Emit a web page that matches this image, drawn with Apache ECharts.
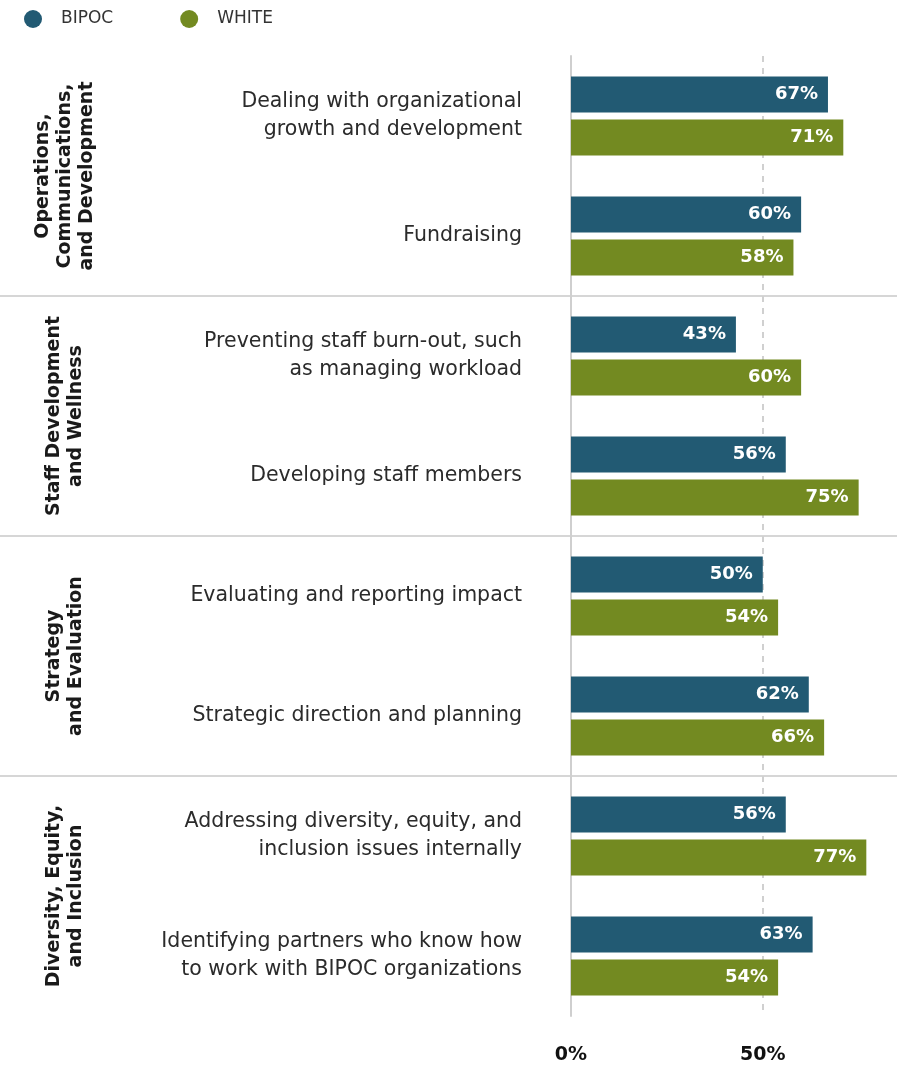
<!DOCTYPE html>
<html>
<head>
<meta charset="utf-8">
<script src="https://cdn.jsdelivr.net/npm/echarts@6/dist/echarts.min.js"></script>
<style>html,body{margin:0;padding:0;background:#fff}#c{width:897px;height:1066px}</style>
</head>
<body>
<div id="c"></div>
<script>
var categories = [
  'Dealing with organizational\ngrowth and development',
  'Fundraising',
  'Preventing staff burn-out, such\nas managing workload',
  'Developing staff members',
  'Evaluating and reporting impact',
  'Strategic direction and planning',
  'Addressing diversity, equity, and\ninclusion issues internally',
  'Identifying partners who know how\nto work with BIPOC organizations'
];
var groups = [
  'Operations,\nCommunications,\nand Development',
  'Staff Development\nand Wellness',
  'Strategy\nand Evaluation',
  'Diversity, Equity,\nand Inclusion'
];
var bipoc = [67, 60, 43, 56, 50, 62, 56, 63];
var white = [71, 58, 60, 75, 54, 66, 77, 54];
var seriesNames = ['BIPOC', 'WHITE'];

var FONT = 'DejaVu Sans';
var chart = echarts.init(document.getElementById('c'), null, {renderer: 'canvas'});
var valueLabel = {
  show: true, position: 'insideRight', distance: 10,
  formatter: '{c}%', color: '#fff', fontSize: 18, fontWeight: 'bold', fontFamily: FONT
};
chart.setOption({
  animation: false,
  textStyle: {fontFamily: FONT},
  legend: {
    data: seriesNames, icon: 'circle', itemWidth: 18, itemHeight: 18,
    left: 19, top: 5, itemGap: 67,
    textStyle: {fontSize: 17, color: '#333', fontFamily: FONT, padding: [0, 0, 0, 14]}
  },
  grid: [
    {left: 571, right: 0, top: 56, bottom: 50, containLabel: false},
    {left: 0, right: 0, top: 56, bottom: 50, containLabel: false}
  ],
  xAxis: [
    {
      type: 'value', gridIndex: 0, min: 0, max: 85, interval: 50,
      axisLine: {show: false}, axisTick: {show: false},
      splitLine: {show: true, showMinLine: false, showMaxLine: false,
        lineStyle: {color: '#d0d0d0', width: 2, type: [6, 6]}},
      axisLabel: {formatter: '{value}%', showMaxLabel: false, margin: 30,
        fontSize: 19, fontWeight: 'bold', color: '#111', fontFamily: FONT}
    },
    {type: 'value', gridIndex: 1, show: false, min: 0, max: 1}
  ],
  yAxis: [
    {
      type: 'category', gridIndex: 0, inverse: true, data: categories,
      axisLine: {show: true, lineStyle: {color: '#cfcfcf', width: 2}},
      axisTick: {show: false},
      axisLabel: {interval: 0, margin: 49, fontSize: 20.5, color: '#2b2b2b', lineHeight: 28, fontFamily: FONT}
    },
    {
      type: 'category', gridIndex: 1, inverse: true, data: groups,
      axisLine: {show: false}, axisTick: {show: false, interval: 0},
      splitLine: {show: true, interval: 0, showMinLine: false, showMaxLine: false,
        lineStyle: {color: '#c8c8c8', width: 1.5}},
      axisLabel: {interval: 0, hideOverlap: false, inside: true, rotate: 90, margin: 65,
        verticalAlign: 'middle', align: 'center',
        fontSize: 19, fontWeight: 'bold', color: '#1a1a1a', lineHeight: 22, fontFamily: FONT}
    }
  ],
  series: [
    {name: seriesNames[0], type: 'bar', xAxisIndex: 0, yAxisIndex: 0, data: bipoc,
      barWidth: 36, barGap: '19%', itemStyle: {color: '#225a73'}, label: valueLabel},
    {name: seriesNames[1], type: 'bar', xAxisIndex: 0, yAxisIndex: 0, data: white,
      barWidth: 36, barGap: '19%', itemStyle: {color: '#738a21'}, label: valueLabel}
  ]
});
</script>
</body>
</html>
